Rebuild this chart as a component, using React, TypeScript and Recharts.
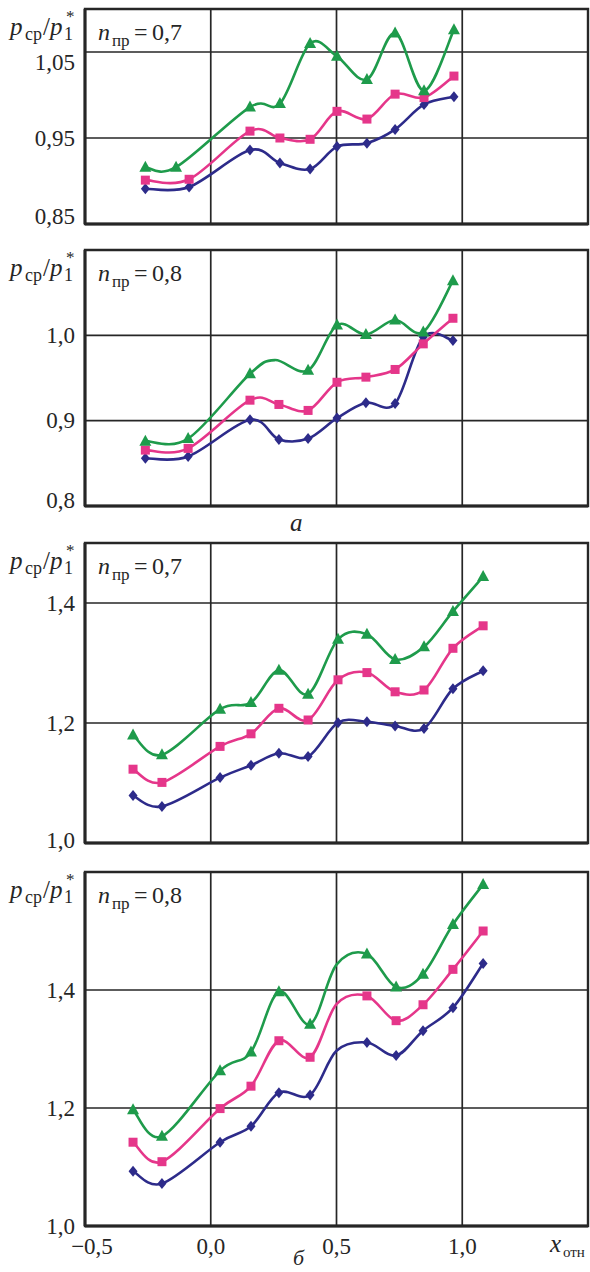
import React from 'react';
import { LineChart, Line, XAxis, YAxis, CartesianGrid, ReferenceArea } from 'recharts';

// ---------- data ----------
const X_TICKS = [-0.5, 0, 0.5, 1.0, 1.5];

// panel а, n_пр = 0,7
const A07_X = [-0.26, -0.086, 0.156, 0.275, 0.395, 0.502, 0.621, 0.733, 0.848, 0.967];
const A07_GREEN_X = [-0.26, -0.138, 0.156, 0.275, 0.395, 0.502, 0.621, 0.733, 0.848, 0.967];
const A07_BLUE = [0.891, 0.893, 0.936, 0.921, 0.914, 0.94, 0.944, 0.96, 0.989, 0.998];
const A07_PINK = [0.901, 0.902, 0.958, 0.95, 0.9485, 0.981, 0.972, 1.001, 0.997, 1.022];
const A07_GREEN = [0.916, 0.916, 0.986, 0.99, 1.06, 1.045, 1.018, 1.072, 1.005, 1.076];

// panel а, n_пр = 0,8
const A08_X = [-0.26, -0.09, 0.156, 0.271, 0.387, 0.502, 0.617, 0.733, 0.845, 0.963];
const A08_GREEN_X = [-0.26, -0.09, 0.156, 0.387, 0.502, 0.617, 0.733, 0.845, 0.963];
const A08_BLUE = [0.856, 0.858, 0.901, 0.878, 0.879, 0.903, 0.921, 0.92, 0.998, 0.994];
const A08_PINK = [0.8655, 0.8675, 0.924, 0.919, 0.912, 0.945, 0.951, 0.96, 0.99, 1.02];
const A08_GREEN = [0.876, 0.879, 0.955, 0.959, 1.012, 1.001, 1.018, 1.004, 1.064];
const A08_GREEN_BEND_X = [0.255];
const A08_GREEN_BEND = [0.971];

// panel б, n_пр = 0,7
const B07_X = [-0.309, -0.194, 0.037, 0.16, 0.271, 0.387, 0.506, 0.621, 0.733, 0.848, 0.963, 1.083];
const B07_BLUE = [1.079, 1.061, 1.109, 1.1295, 1.1495, 1.144, 1.2006, 1.202, 1.195, 1.191, 1.257, 1.287];
const B07_PINK = [1.123, 1.101, 1.161, 1.182, 1.2245, 1.205, 1.272, 1.284, 1.252, 1.255, 1.3245, 1.362];
const B07_GREEN = [1.18, 1.147, 1.223, 1.234, 1.288, 1.248, 1.3395, 1.348, 1.306, 1.327, 1.386, 1.444];

// panel б, n_пр = 0,8
const B08_X = [-0.309, -0.194, 0.037, 0.16, 0.271, 0.395, 0.621, 0.737, 0.844, 0.963, 1.083];
const B08_BLUE = [1.093, 1.072, 1.142, 1.169, 1.226, 1.222, 1.311, 1.289, 1.331, 1.37, 1.445];
const B08_PINK = [1.142, 1.109, 1.199, 1.237, 1.314, 1.286, 1.39, 1.348, 1.375, 1.435, 1.5];
const B08_GREEN = [1.197, 1.152, 1.263, 1.295, 1.397, 1.342, 1.461, 1.405, 1.4265, 1.511, 1.579];
const B08_BEND_X = [0.5];
const B08_BLUE_BEND = [1.297];
const B08_PINK_BEND = [1.376];
const B08_GREEN_BEND = [1.443];

// ---------- styling ----------
const COLORS: Record<string, string> = { blue: '#2d2b8a', pink: '#e5368a', green: '#1e9b4b' };
const INK = '#262626';
const FONT = '"Liberation Serif", "DejaVu Serif", serif';

// Catmull-Rom style smoothing (like spreadsheet "smoothed line")
const smooth: any = (context: any) => {
  let pts: number[][] = [];
  return {
    areaStart() {},
    areaEnd() {},
    lineStart() {
      pts = [];
    },
    lineEnd() {
      const n = pts.length;
      if (!n) return;
      context.moveTo(pts[0][0], pts[0][1]);
      for (let i = 0; i < n - 1; i++) {
        const p0 = pts[Math.max(0, i - 1)];
        const p1 = pts[i];
        const p2 = pts[i + 1];
        const p3 = pts[Math.min(n - 1, i + 2)];
        context.bezierCurveTo(
          p1[0] + (p2[0] - p0[0]) / 6,
          p1[1] + (p2[1] - p0[1]) / 6,
          p2[0] - (p3[0] - p1[0]) / 6,
          p2[1] - (p3[1] - p1[1]) / 6,
          p2[0],
          p2[1]
        );
      }
    },
    point(x: number, y: number) {
      pts.push([+x, +y]);
    },
  };
};

type Series = { kind: string; xs: number[]; ys: number[]; bendX?: number[]; bendY?: number[] };

function buildPoints(s: Series) {
  const pts = s.xs.map((x, i) => ({ x, y: s.ys[i], mark: true }));
  (s.bendX || []).forEach((x, i) => pts.push({ x, y: (s.bendY || [])[i], mark: false }));
  pts.sort((a, b) => a.x - b.x);
  return pts;
}

function renderMarker(props: any, kind: string) {
  const { cx, cy, payload, index } = props;
  const key = `${kind}-${index}`;
  if (!payload || !payload.mark || cx == null || cy == null) return <g key={key} />;
  const c = COLORS[kind];
  if (kind === 'green') {
    return <polygon key={key} points={`${cx},${cy - 6.5} ${cx + 6},${cy + 4.5} ${cx - 6},${cy + 4.5}`} fill={c} />;
  }
  if (kind === 'pink') {
    return <rect key={key} x={cx - 4.5} y={cy - 4.5} width={9} height={9} fill={c} />;
  }
  return <polygon key={key} points={`${cx},${cy - 5.5} ${cx + 4.5},${cy} ${cx},${cy + 5.5} ${cx - 4.5},${cy}`} fill={c} />;
}

type PanelProps = {
  top: number;
  plotHeight: number;
  domain: [number, number];
  ticks: number[];
  decimals: number;
  series: Series[];
  showX?: boolean;
  maxDy?: number;
  minDy?: number;
};

const M_TOP = 10;

function Panel({ top, plotHeight, domain, ticks, decimals, series, showX, maxDy = 0, minDy = 0 }: PanelProps) {
  const xAxisH = showX ? 36 : 2;
  const bottom = showX ? 0 : 12;
  const height = M_TOP + plotHeight + xAxisH + bottom;
  const yTick = (p: any) => {
    const v = p.payload.value;
    let dy = 0;
    if (Math.abs(v - domain[0]) < 1e-9) dy = minDy;
    if (Math.abs(v - ticks[ticks.length - 1]) < 1e-9) dy = maxDy;
    return (
      <text x={p.x} y={p.y + dy} textAnchor="end" dominantBaseline="central" fontFamily={FONT} fontSize={23} fill={INK}>
        {v.toFixed(decimals).replace('.', ',')}
      </text>
    );
  };
  const xTick = (p: any) => {
    const v = p.payload.value;
    if (!showX || v > 1.2) return <g />;
    const label = (v < 0 ? '\u2212' : '') + Math.abs(v).toFixed(1).replace('.', ',');
    return (
      <text x={p.x + (v < 0 ? 7 : 0)} y={p.y + 28} textAnchor="middle" fontFamily={FONT} fontSize={23} fill={INK}>
        {label}
      </text>
    );
  };
  return (
    <div style={{ position: 'absolute', left: 0, top: top - M_TOP }}>
      <LineChart width={590} height={height} margin={{ top: M_TOP, right: 2, bottom, left: 0 }}>
        <CartesianGrid stroke={INK} strokeWidth={1.7} />
        <XAxis
          type="number"
          dataKey="x"
          domain={[-0.5, 1.5]}
          ticks={X_TICKS}
          interval={0}
          allowDataOverflow
          height={xAxisH}
          axisLine={{ stroke: INK, strokeWidth: 3 }}
          tickLine={false}
          tickSize={0}
          tickMargin={0}
          tick={xTick}
        />
        <YAxis
          type="number"
          domain={domain}
          ticks={ticks}
          interval={0}
          allowDataOverflow
          width={85}
          axisLine={{ stroke: INK, strokeWidth: 3 }}
          tickLine={false}
          tickSize={0}
          tickMargin={10}
          tick={yTick}
        />
        <ReferenceArea x1={-0.5} x2={1.5} y1={domain[0]} y2={domain[1]} fill="none" stroke={INK} strokeWidth={2.4} />
        {series.map((s) => (
          <Line
            key={s.kind}
            data={buildPoints(s)}
            dataKey="y"
            type={smooth}
            stroke={COLORS[s.kind]}
            strokeWidth={2.6}
            dot={(p: any) => renderMarker(p, s.kind)}
            activeDot={false}
            isAnimationActive={false}
          />
        ))}
      </LineChart>
    </div>
  );
}

function YLabel({ t }: { t: number }) {
  return (
    <text y={t + 26} fontFamily={FONT} fontSize={25} fill={INK}>
      <tspan x={10} fontStyle="italic">p</tspan>
      <tspan x={25} fontSize={18} dy={5}>ср</tspan>
      <tspan x={43} dy={-5}>/</tspan>
      <tspan x={50} fontStyle="italic">p</tspan>
      <tspan x={64} fontSize={18} dy={5}>1</tspan>
      <tspan x={66} fontSize={17} dy={-18}>*</tspan>
    </text>
  );
}

function NLabel({ t, value }: { t: number; value: string }) {
  return (
    <text y={t + 31} fontFamily={FONT} fontSize={24} fill={INK}>
      <tspan x={98} fontStyle="italic">n</tspan>
      <tspan x={112} fontSize={17} dy={6}>пр</tspan>
      <tspan x={134} dy={-6}>=</tspan>
      <tspan x={152}>{value}</tspan>
    </text>
  );
}

export default function App() {
  return (
    <div style={{ position: 'absolute', left: 0, top: 0, width: 590, height: 1272, background: '#fff' }}>
      <Panel
        top={9}
        plotHeight={215}
        domain={[0.85, 1.1]}
        ticks={[0.85, 0.95, 1.05]}
        decimals={2}
        maxDy={10}
        minDy={-8}
        series={[
          { kind: 'blue', xs: A07_X, ys: A07_BLUE },
          { kind: 'pink', xs: A07_X, ys: A07_PINK },
          { kind: 'green', xs: A07_GREEN_X, ys: A07_GREEN },
        ]}
      />
      <Panel
        top={250}
        plotHeight={256}
        domain={[0.8, 1.1]}
        ticks={[0.8, 0.9, 1.0]}
        decimals={1}
        minDy={-6}
        series={[
          { kind: 'blue', xs: A08_X, ys: A08_BLUE },
          { kind: 'pink', xs: A08_X, ys: A08_PINK },
          { kind: 'green', xs: A08_GREEN_X, ys: A08_GREEN, bendX: A08_GREEN_BEND_X, bendY: A08_GREEN_BEND },
        ]}
      />
      <Panel
        top={543}
        plotHeight={300}
        domain={[1.0, 1.5]}
        ticks={[1.0, 1.2, 1.4]}
        decimals={1}
        minDy={-3}
        series={[
          { kind: 'blue', xs: B07_X, ys: B07_BLUE },
          { kind: 'pink', xs: B07_X, ys: B07_PINK },
          { kind: 'green', xs: B07_X, ys: B07_GREEN },
        ]}
      />
      <Panel
        top={872}
        plotHeight={354}
        domain={[1.0, 1.6]}
        ticks={[1.0, 1.2, 1.4]}
        decimals={1}
        showX
        series={[
          { kind: 'blue', xs: B08_X, ys: B08_BLUE, bendX: B08_BEND_X, bendY: B08_BLUE_BEND },
          { kind: 'pink', xs: B08_X, ys: B08_PINK, bendX: B08_BEND_X, bendY: B08_PINK_BEND },
          { kind: 'green', xs: B08_X, ys: B08_GREEN, bendX: B08_BEND_X, bendY: B08_GREEN_BEND },
        ]}
      />
      <svg width={590} height={1272} style={{ position: 'absolute', left: 0, top: 0, pointerEvents: 'none' }}>
        <YLabel t={9} />
        <NLabel t={9} value="0,7" />
        <YLabel t={250} />
        <NLabel t={250} value="0,8" />
        <YLabel t={543} />
        <NLabel t={543} value="0,7" />
        <YLabel t={872} />
        <NLabel t={872} value="0,8" />
        <text x={290} y={531} fontFamily={FONT} fontSize={25} fontStyle="italic" fill={INK}>а</text>
        <text x={293} y={1265} fontFamily={FONT} fontSize={22} fontStyle="italic" fill={INK}>б</text>
        <text y={1252} fontFamily={FONT} fill={INK}>
          <tspan x={550} fontSize={25} fontStyle="italic">x</tspan>
          <tspan x={563} fontSize={15} dy={5}>отн</tspan>
        </text>
      </svg>
    </div>
  );
}
